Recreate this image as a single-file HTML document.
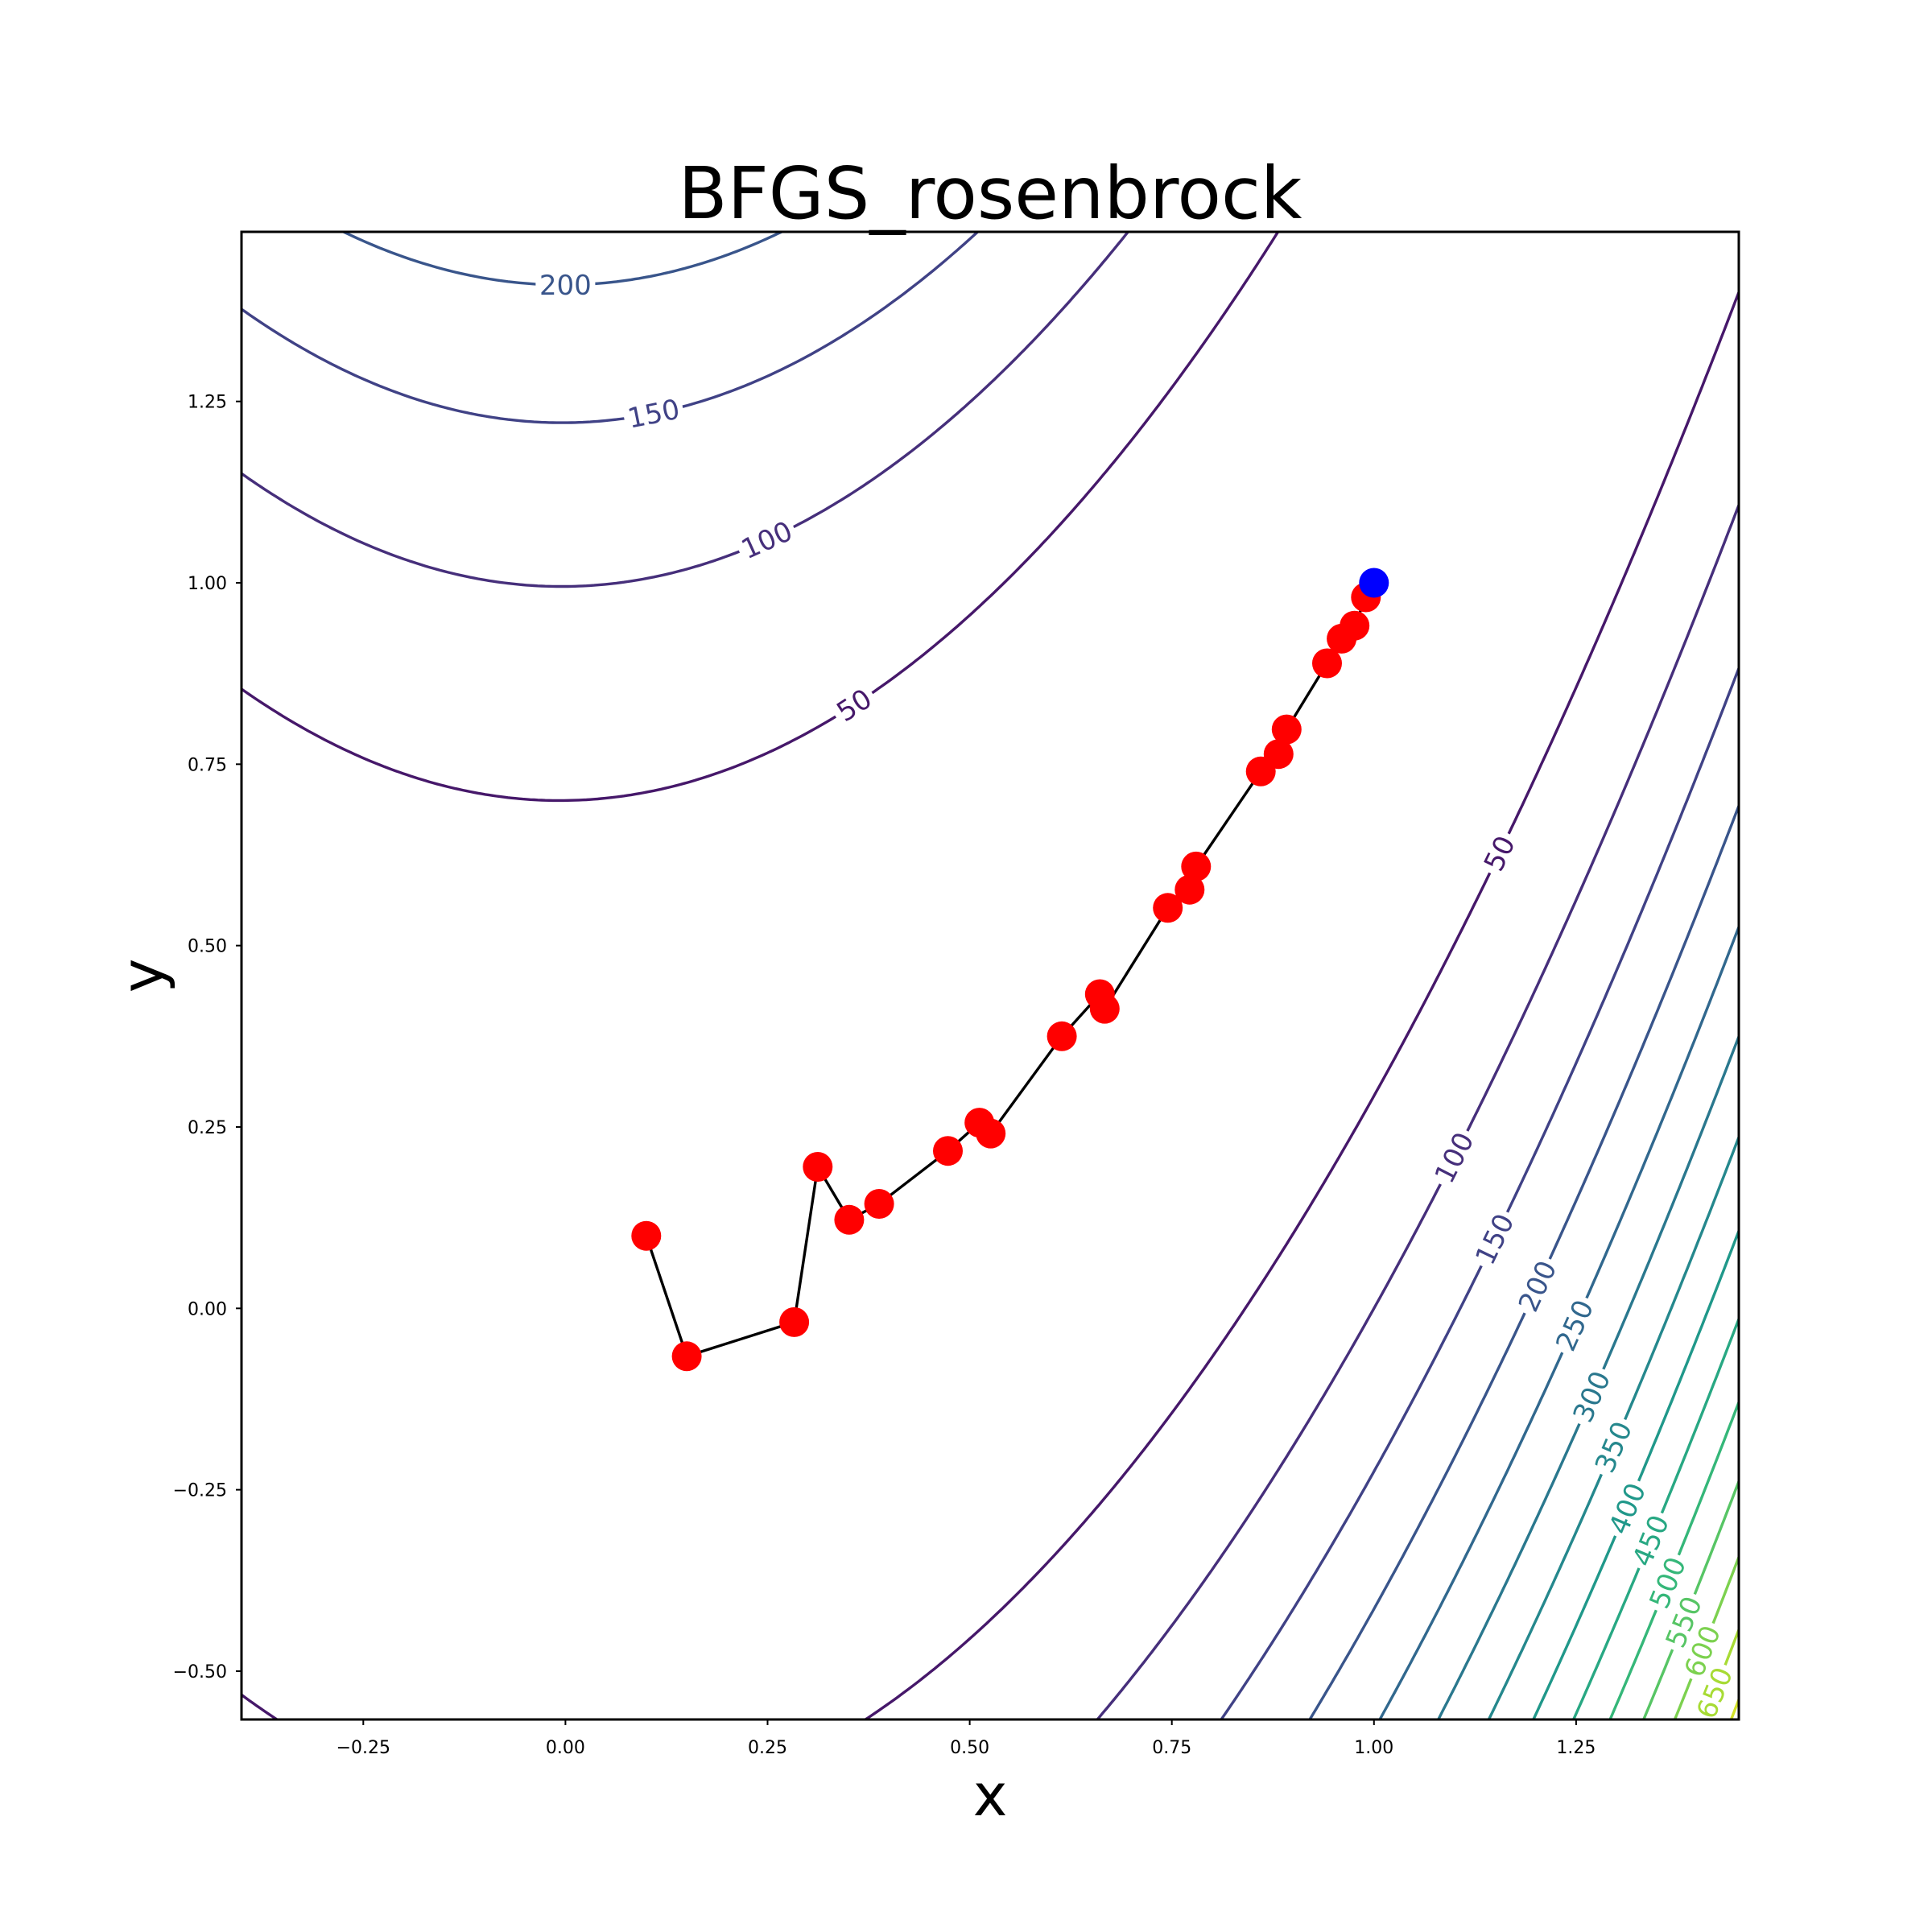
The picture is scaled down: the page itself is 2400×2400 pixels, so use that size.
<!DOCTYPE html>
<html><head><meta charset="utf-8"><style>
html,body{margin:0;padding:0;background:#fff;width:2400px;height:2400px;overflow:hidden;}
svg{display:block;font-family:"DejaVu Sans","Liberation Sans",sans-serif;}
</style></head><body>
<svg id="chart" width="2400" height="2400" viewBox="0 0 2400 2400" xmlns="http://www.w3.org/2000/svg">
<rect x="0" y="0" width="2400" height="2400" fill="#fff"/>
<defs><clipPath id="clip"><rect x="300" y="288" width="1860" height="1848"/></clipPath></defs>
<g id="contours" clip-path="url(#clip)"></g>
<g id="clabels"></g>
<g id="path" clip-path="url(#clip)"></g>
<rect x="300" y="288" width="1860" height="1848" fill="none" stroke="#000" stroke-width="3"/>
<g id="ticks"></g>
<text x="1230" y="271" font-size="89" text-anchor="middle">BFGS_rosenbrock</text>
<text x="1230" y="2255" font-size="72" text-anchor="middle">x</text>
<text x="0" y="0" font-size="72" text-anchor="middle" transform="translate(202,1212) rotate(-90)">y</text>
</svg>
<script>
const levels=[50,100,150,200,250,300,350,400,450,500,550,600,650,700];
const upperLabelX=[0.357,0.249,0.109,0.0];
const upperLabelLevels=[50,100,150,200];
const lowerLabelLevels=[50,100,150,200,250,300,350,400,450,500,550,600,650];
const lowerLabelX=[1.155,1.099,1.149,1.202,1.248,1.269,1.296,1.313,1.342,1.363,1.383,1.406,1.421];
const pathX=[0.100,0.150,0.283,0.312,0.351,0.388,0.473,0.512,0.526,0.614,0.661,0.667,0.745,0.772,0.780,0.860,0.882,0.892,0.942,0.960,0.976,0.990,1.0];
const pathY=[0.100,-0.066,-0.019,0.195,0.122,0.144,0.217,0.256,0.241,0.375,0.433,0.413,0.552,0.577,0.609,0.740,0.764,0.798,0.889,0.923,0.941,0.980,1.0];
const xTicks=[-0.25,0,0.25,0.5,0.75,1.0,1.25];
const yTicks=[-0.5,-0.25,0,0.25,0.5,0.75,1.0,1.25];
const NS="http://www.w3.org/2000/svg";
const X0=702.4,XS=1004.4,Y0=1625.3,YS=901.3,XMIN=-0.4,XMAX=1.452;
const sx=v=>X0+v*XS, sy=v=>Y0-v*YS;
const vir=["#440154","#482878","#3e4989","#31688e","#26828e","#1f9e89","#35b779","#6ece58","#b5de2b","#fde725"];
function hx(c){return [1,3,5].map(i=>parseInt(c.substr(i,2),16));}
function viridis(t){t=Math.max(0,Math.min(1,t));const p=t*9,i=Math.min(8,Math.floor(p)),f=p-i;const a=hx(vir[i]),b=hx(vir[i+1]);return "rgb("+a.map((v,k)=>Math.round(v+(b[k]-v)*f)).join(",")+")";}
const col=L=>viridis(L/750);
function yb(L,x,s){const r=L-(1-x)*(1-x);return x*x+s*Math.sqrt(r/100);}
function el(tag,attrs,parent){const e=document.createElementNS(NS,tag);for(const k in attrs)e.setAttribute(k,attrs[k]);parent.appendChild(e);return e;}
const gC=document.getElementById('contours'),gL=document.getElementById('clabels'),gP=document.getElementById('path'),gT=document.getElementById('ticks');
levels.forEach(L=>{[1,-1].forEach(s=>{let d="";for(let i=0;i<=400;i++){const x=XMIN+(XMAX-XMIN)*i/400;d+=(i?"L":"M")+sx(x).toFixed(1)+","+sy(yb(L,x,s)).toFixed(1);}
const p=el('path',{d:d,fill:'none',stroke:col(L),'stroke-width':3.4},gC);

});});
function label(L,x,s){const y=yb(L,x,s);const px=sx(x),py=sy(y);const dx=0.001;const p2x=sx(x+dx),p2y=sy(yb(L,x+dx,s));let a=Math.atan2(p2y-py,p2x-px)*180/Math.PI;if(a>90)a-=180;if(a<-90)a+=180;
const w=String(L).length*20+14;
const g=el('g',{transform:`translate(${px.toFixed(1)},${py.toFixed(1)}) rotate(${a.toFixed(1)})`},gL);


el('rect',{x:-w/2,y:-17,width:w,height:34,fill:'#fff'},g);
const t=el('text',{x:0,y:12,'font-size':34,'text-anchor':'middle',fill:col(L)},g);t.textContent=String(L);}
upperLabelLevels.forEach((L,i)=>label(L,upperLabelX[i],1));
lowerLabelLevels.forEach((L,i)=>label(L,lowerLabelX[i],-1));
let d="";pathX.forEach((x,i)=>{d+=(i?"L":"M")+sx(x).toFixed(1)+","+sy(pathY[i]).toFixed(1);});
const ln=el('path',{d:d,fill:'none',stroke:'#000','stroke-width':3.4},gP);


pathX.forEach((x,i)=>{if(i===pathX.length-1)return;const c=el('circle',{cx:sx(x).toFixed(1),cy:sy(pathY[i]).toFixed(1),r:18.5,fill:'#ff0000'},gP);

});
const last=pathX.length-1;
const b=el('circle',{cx:sx(pathX[last]),cy:sy(pathY[last]),r:18.5,fill:'#0000ff'},gP);


xTicks.forEach(v=>{const x=sx(v);const l=el('line',{x1:x,y1:2136,x2:x,y2:2143,stroke:'#000','stroke-width':2},gT);


const t=el('text',{x:x,y:2178,'font-size':22,'text-anchor':'middle'},gT);


t.textContent=(v<0?"\u2212":"")+Math.abs(v).toFixed(2);});
yTicks.forEach(v=>{const y=sy(v);const l=el('line',{x1:293,y1:y,x2:300,y2:y,stroke:'#000','stroke-width':2},gT);


const t=el('text',{x:282,y:y+8,'font-size':22,'text-anchor':'end'},gT);


t.textContent=(v<0?"\u2212":"")+Math.abs(v).toFixed(2);});
</script>
</body></html>
